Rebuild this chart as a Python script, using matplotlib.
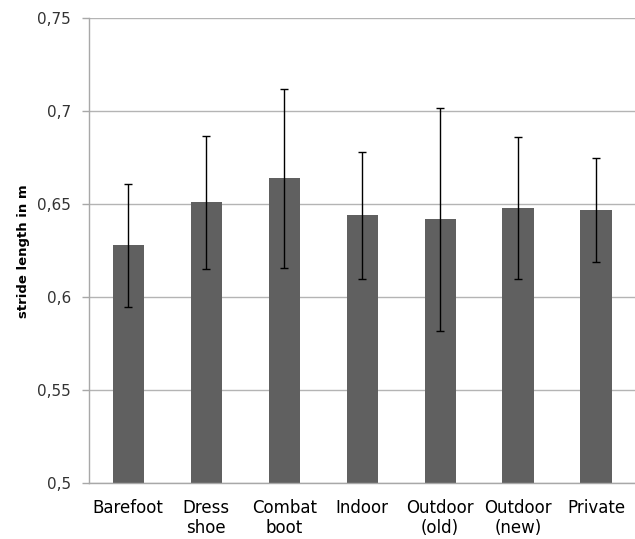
import numpy as np
import matplotlib
matplotlib.use('Agg')
import matplotlib.pyplot as plt

# Stride length per shoe condition (mean and standard deviation, in m)
conditions = ['Barefoot', 'Dress\nshoe', 'Combat\nboot', 'Indoor',
              'Outdoor\n(old)', 'Outdoor\n(new)', 'Private']
stride_mean = [0.628, 0.651, 0.664, 0.644, 0.642, 0.648, 0.647]
stride_sd = [0.033, 0.036, 0.048, 0.034, 0.060, 0.038, 0.028]
y_ticks = [0.5, 0.55, 0.6, 0.65, 0.7, 0.75]
y_ticklabels = ['0,5', '0,55', '0,6', '0,65', '0,7', '0,75']

plt.rcParams['font.family'] = ['DejaVu Sans']

fig = plt.figure(figsize=(6.35, 5.39), dpi=100)
ax = fig.add_axes([0.1406, 0.1033, 0.8594, 0.8627])

x = np.arange(len(conditions))
ax.bar(x, stride_mean, width=0.4, color='#606060', zorder=2)
ax.errorbar(x, stride_mean, yerr=stride_sd, fmt='none', ecolor='black',
            elinewidth=1, capsize=3, capthick=1, zorder=3)

ax.set_xlim(-0.5, len(conditions) - 0.5)
ax.set_ylim(0.5, 0.75)
ax.set_yticks(y_ticks)
ax.set_yticklabels(y_ticklabels)
ax.set_xticks(x)
ax.set_xticklabels(conditions, linespacing=1.2)

ax.grid(axis='y', color='#b4b4b4', linewidth=1, zorder=0)
ax.set_axisbelow(True)

for side in ['top', 'right']:
    ax.spines[side].set_visible(False)
for side in ['left', 'bottom']:
    ax.spines[side].set_color('#a8a8a8')
    ax.spines[side].set_linewidth(1)

ax.tick_params(axis='y', length=5, width=1, color='#a8a8a8', pad=8,
               labelsize=11, labelcolor='#333333')
ax.tick_params(axis='x', length=0, pad=11, labelsize=12, labelcolor='black')

ax.set_ylabel('stride length in m', fontsize=9.5, fontweight='bold', labelpad=5)

fig.savefig('out.png', dpi=100, facecolor='white')
